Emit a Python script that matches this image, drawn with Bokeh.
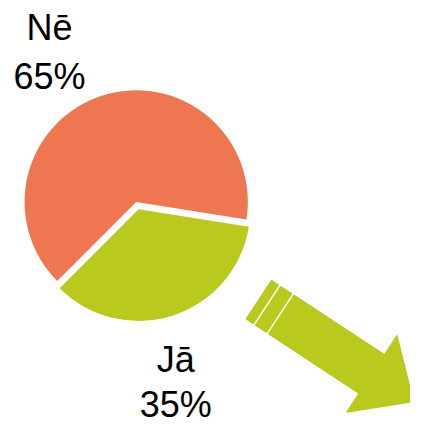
import math
from bokeh.plotting import figure
from bokeh.models import Range1d
from bokeh.core.properties import value
from bokeh.embed import file_html
from bokeh.resources import INLINE

# ---- data ----
categories = ["Nē", "Jā"]
shares = [65, 35]
labels = ["65%", "35%"]
colors = ["#EE7651", "#B9C91D"]

# ---- layout (reference pixel space, y down) ----
W, H = 426, 442
p = figure(width=410, height=426, output_backend="svg", toolbar_location=None,
           x_range=Range1d(0, W), y_range=Range1d(0, H), min_border=0,
           border_fill_color="white", background_fill_color="white")
p.axis.visible = False
p.grid.visible = False
p.outline_line_color = None

def Y(y):
    return H - y

cx, cy, r = 141, 209, 116
start_deg = -9.0
explode = [0, 8]

ang = math.radians(start_deg)
total = sum(shares)
for i, (s, c) in enumerate(zip(shares, colors)):
    sweep = 2 * math.pi * s / total
    a0, a1 = ang, ang + sweep
    mid = (a0 + a1) / 2
    ox = cx + explode[i] * math.cos(mid)
    oy = Y(cy) + explode[i] * math.sin(mid)
    p.wedge(x=[ox], y=[oy], radius=r, start_angle=a0, end_angle=a1,
            fill_color=c, line_color=None)
    ang = a1

# ---- labels ----
font = value("Liberation Sans")
lab_pos = [(51, 28, 79), (182, 372, 419)]
for (name, pct), (lx, y1, y2) in zip(zip(categories, labels), lab_pos):
    p.text(x=[lx], y=[Y(y1)], text=[name], text_font=font, text_font_size="36px",
           text_align="center", text_baseline="alphabetic", text_color="black")
    p.text(x=[lx], y=[Y(y2)], text=[pct], text_font=font, text_font_size="36px",
           text_align="center", text_baseline="alphabetic", text_color="black")

# ---- decorative arrow ----
ox0, oy0 = 305, 306
ux, uy = 0.836, 0.549
nx, ny = -0.549, 0.836
def pt(t, w):
    return (ox0 + t * ux + w * nx, Y(oy0 + t * uy + w * ny))

bw = 47.6
body = [(0, 0), (112.4, 0), (112.4, -23.6), (164, bw / 2), (112.4, bw + 23.2),
        (112.4, bw), (0, bw)]
pts = [pt(t, w) for t, w in body]
p.patch([q[0] for q in pts], [q[1] for q in pts], fill_color=colors[1],
        line_color=colors[1], line_width=1.5, line_join="round")
for t0, t1 in [(-28, -19.5), (-16.5, -3)]:
    sp = [pt(t0, 0), pt(t1, 0), pt(t1, bw), pt(t0, bw)]
    p.patch([q[0] for q in sp], [q[1] for q in sp], fill_color=colors[1],
            line_color=colors[1], line_width=1.5, line_join="round")

open("out.html", "w").write(file_html(p, INLINE))
